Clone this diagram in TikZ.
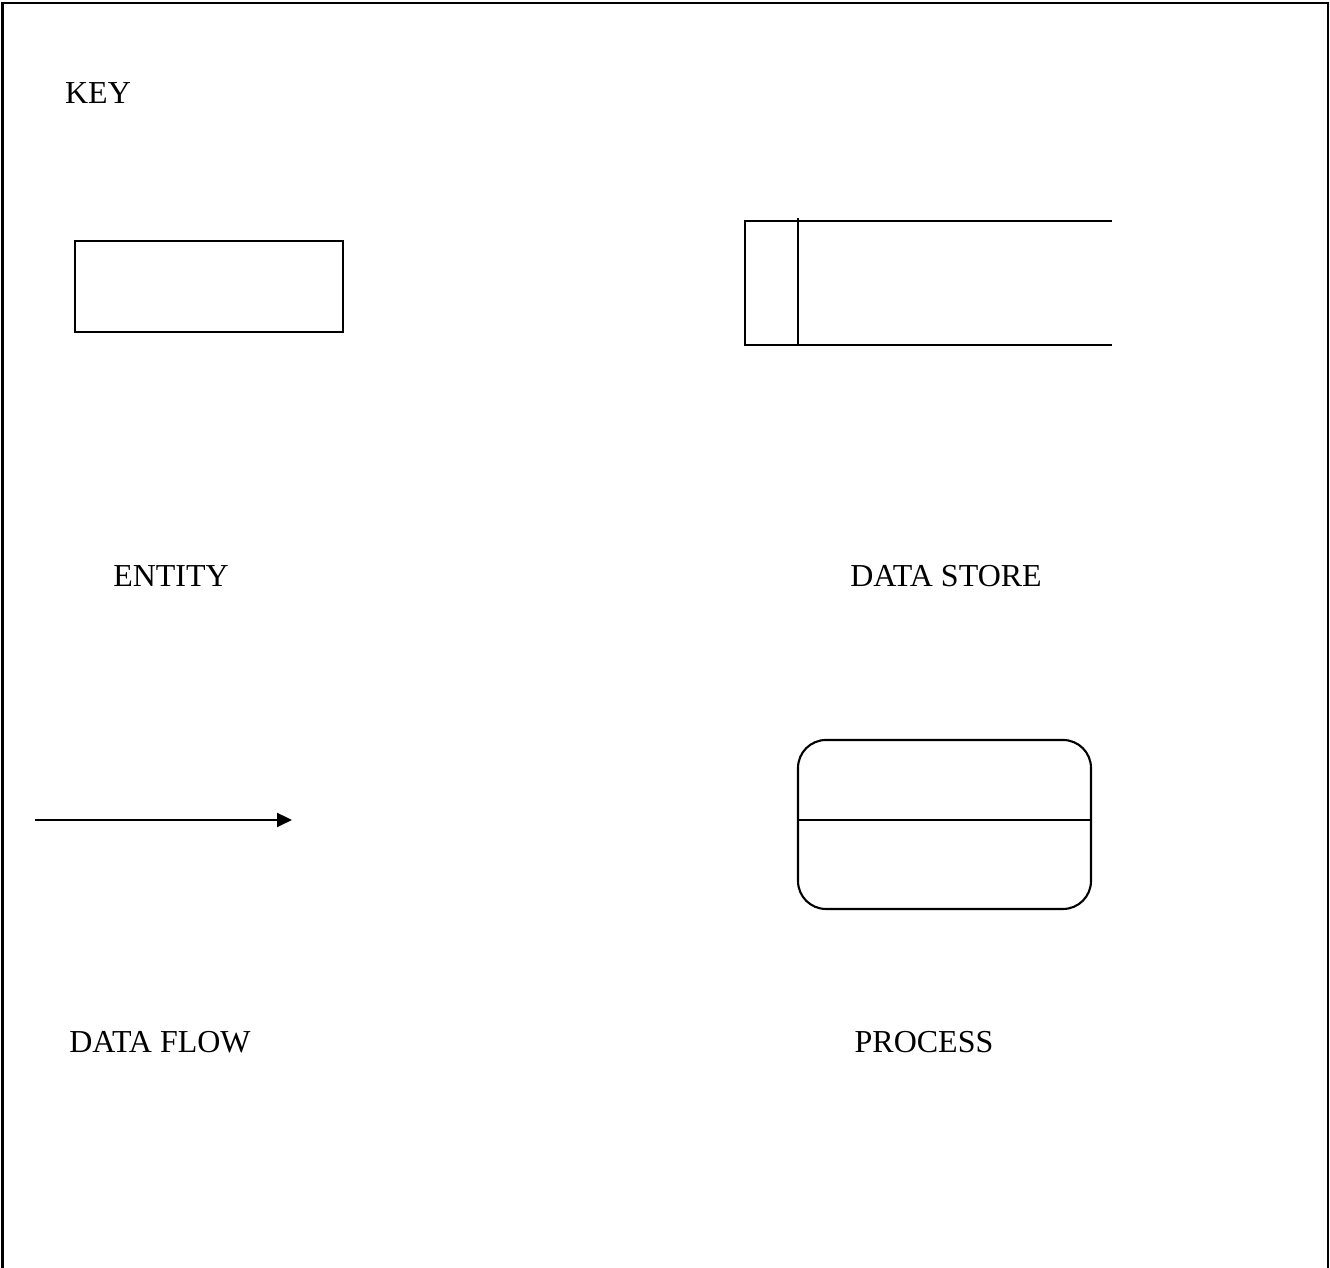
\documentclass[tikz,border=0pt]{standalone}
\usepackage{fontspec}
\setmainfont{Liberation Serif}
\usepackage{tikz}
\usetikzlibrary{arrows.meta}
\tikzset{
  keytext/.style={anchor=base,inner sep=0pt,font=\fontsize{9.1}{11}\selectfont},
  keyline/.style={line width=0.6pt}
}

\begin{document}
\begin{tikzpicture}[keyline]
\useasboundingbox (0,0) rectangle (13.3,12.68);
% frame, open at the bottom
\draw (0.025,0) -- (0.025,12.65) -- (13.28,12.65) -- (13.28,0);
\node[keytext] (key) at (0.98,11.64) {KEY};
%
\draw (0.75,9.36) rectangle (3.43,10.27);
\node[keytext] (entity) at (1.71,6.81) {ENTITY};
%
\draw (11.12,10.47) -- (7.45,10.47) -- (7.45,9.23) -- (11.12,9.23);
\draw[line width=0.5pt] (7.98,10.50) -- (7.98,9.23);
\node[keytext] (store) at (9.46,6.81) {DATA STORE};
%
\coordinate (flowstart) at (0.35,4.48);
\coordinate (flowend) at (2.92,4.48);
\draw[-{Triangle[length=1.5mm,width=1.4mm]}] (flowstart) -- (flowend);
\node[keytext] (flow) at (1.60,2.15) {DATA FLOW};
%
\draw[rounded corners=0.28cm] (7.98,3.59) rectangle (10.91,5.28);
\draw (7.98,4.48) -- (10.91,4.48);
\node[keytext] (process) at (9.24,2.15) {PROCESS};
\end{tikzpicture}
\end{document}
